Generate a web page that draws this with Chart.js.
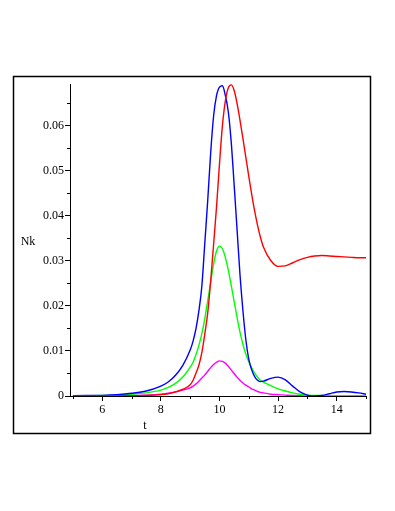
<!DOCTYPE html>
<html>
<head>
<meta charset="utf-8">
<script src="https://cdn.jsdelivr.net/npm/chart.js@4"></script>
<style>
  html, body { margin: 0; padding: 0; background: #fff; }
  #wrap { width: 395px; height: 511px; position: relative; }
</style>
</head>
<body>
<div id="wrap"><canvas id="c" width="395" height="511"></canvas></div>
<script>
// ---- data ----
const tValues = [5,5.5,6,6.5,7,7.5,8,8.25,8.5,8.75,9,9.1,9.2,9.3,9.4,9.5,9.6,9.7,9.8,9.9,10,10.1,10.2,10.3,10.4,10.5,10.6,10.7,10.8,10.9,11,11.1,11.2,11.3,11.4,11.5,11.75,12,12.25,12.5,12.75,13,13.25,13.5,13.75,14,14.25,14.5,14.75,15];

const redValues = [0,0,0.00001,0.00002,0.00005,0.0001,0.0003,0.0005,0.0009,0.0015,0.0025,0.0035,0.0051,0.0069,0.0097,0.0138,0.0185,0.0255,0.0337,0.042,0.0515,0.06,0.0655,0.0684,0.0691,0.0679,0.065,0.0613,0.0572,0.053,0.0488,0.0448,0.0411,0.0379,0.0352,0.0331,0.0301,0.0288,0.0289,0.0296,0.0303,0.0308,0.0311,0.0312,0.0311,0.031,0.0309,0.0308,0.0307,0.0307];

const blueValues = [0.00005,0.0001,0.00015,0.0003,0.0006,0.0011,0.0022,0.0031,0.0046,0.0068,0.0102,0.0122,0.015,0.019,0.0245,0.034,0.0435,0.054,0.0622,0.0667,0.0686,0.0689,0.0668,0.0632,0.0565,0.047,0.037,0.027,0.019,0.0125,0.0082,0.0058,0.0043,0.0035,0.0032,0.0033,0.0039,0.0042,0.0036,0.0022,0.0009,0.0002,0.0,0.0001,0.0005,0.0009,0.001,0.0009,0.0007,0.0004];

const greenValues = [0.00003,0.00006,0.0001,0.0002,0.0004,0.0007,0.0013,0.0019,0.0028,0.0042,0.0064,0.0075,0.0092,0.0113,0.0139,0.0172,0.0212,0.0253,0.0293,0.0322,0.0333,0.0327,0.0308,0.028,0.0246,0.021,0.0175,0.0142,0.0115,0.0093,0.0076,0.0062,0.0051,0.0042,0.0035,0.0031,0.0023,0.0016,0.0011,0.0007,0.0004,0.0002,0.0001,0.0001,0.00005,0.00005,0.00003,0.00003,0.00002,0.00002];

const magentaValues = [0.00001,0.00002,0.00003,0.00006,0.0001,0.0002,0.0004,0.0006,0.0009,0.0013,0.0018,0.0022,0.0027,0.0033,0.004,0.0047,0.0055,0.0063,0.007,0.0075,0.0078,0.0077,0.0073,0.0066,0.0058,0.005,0.0042,0.0035,0.0029,0.0024,0.002,0.0016,0.0013,0.001,0.0008,0.0007,0.0004,0.0003,0.0002,0.0001,0.00005,0.00003,0.00002,0.00001,0.00001,0.00001,0.00001,0.00001,0.00001,0.00001];

const xTickLabels = [6, 8, 10, 12, 14];
const yTickLabels = ["0", "0.01", "0.02", "0.03", "0.04", "0.05", "0.06"];
const xTitle = "t";
const yTitle = "Nk";

// ---- chart ----
const FONT = "'Liberation Serif', serif";
const pts = arr => tValues.map((t, i) => ({ x: t, y: arr[i] }));
const line = (arr, color) => ({
  data: pts(arr), borderColor: color, borderWidth: 1.4, pointRadius: 0,
  fill: false, cubicInterpolationMode: 'monotone'
});

function isMajorX(v) { return xTickLabels.some(l => Math.abs(l - v) < 1e-6); }
function yIndex(v) { return Math.round(v / 0.01); }
function isMajorY(v) { return Math.abs(v / 0.01 - Math.round(v / 0.01)) < 1e-6; }

const deco = {
  id: 'deco',
  afterDraw(chart) {
    const ctx = chart.ctx;
    const xs = chart.scales.x, ys = chart.scales.y;
    ctx.save();
    ctx.strokeStyle = '#000';
    ctx.lineWidth = 1;
    // minor ticks
    xs.ticks.forEach(tk => {
      if (!isMajorX(tk.value)) {
        const px = Math.round(xs.getPixelForValue(tk.value)) + 0.5;
        ctx.beginPath(); ctx.moveTo(px, ys.bottom); ctx.lineTo(px, ys.bottom + 3); ctx.stroke();
      }
    });
    ys.ticks.forEach(tk => {
      if (!isMajorY(tk.value)) {
        const py = Math.round(ys.getPixelForValue(tk.value)) + 0.5;
        ctx.beginPath(); ctx.moveTo(xs.left - 3, py); ctx.lineTo(xs.left, py); ctx.stroke();
      }
    });
    // outer frame
    ctx.lineWidth = 1.5;
    ctx.strokeRect(13.5, 76.5, 357, 357);
    // axis titles
    ctx.fillStyle = '#000';
    ctx.font = "12px " + FONT;
    ctx.textAlign = 'center';
    ctx.textBaseline = 'middle';
    ctx.fillText(xTitle, 145, 426);
    ctx.fillText(yTitle, 28, 242);
    ctx.restore();
  }
};

new Chart(document.getElementById('c'), {
  type: 'line',
  data: {
    datasets: [
      line(redValues, '#ff0000'),
      line(blueValues, '#0000ff'),
      line(greenValues, '#00ff00'),
      line(magentaValues, '#ff00ff')
    ]
  },
  options: {
    responsive: false,
    animation: false,
    events: [],
    layout: { padding: { left: 0, right: 29, top: 84, bottom: 0 } },
    plugins: { legend: { display: false }, tooltip: { enabled: false } },
    scales: {
      x: {
        type: 'linear', min: 4.9, max: 15,
        afterFit: s => { s.height = 115; },
        border: { display: true, color: '#000', width: 1 },
        grid: {
          drawOnChartArea: false, drawTicks: true, tickLength: 5,
          tickColor: c => (c.tick && isMajorX(c.tick.value)) ? '#000' : 'rgba(0,0,0,0)'
        },
        ticks: {
          stepSize: 1, includeBounds: false, autoSkip: false, maxRotation: 0,
          padding: 2, color: '#000', font: { family: FONT, size: 12 },
          callback: v => isMajorX(v) ? String(v) : ''
        }
      },
      y: {
        type: 'linear', min: 0, max: 0.0693,
        afterFit: s => { s.width = 70; },
        border: { display: true, color: '#000', width: 1 },
        grid: {
          drawOnChartArea: false, drawTicks: true, tickLength: 5,
          tickColor: c => (c.tick && isMajorY(c.tick.value)) ? '#000' : 'rgba(0,0,0,0)'
        },
        ticks: {
          stepSize: 0.005, includeBounds: false, autoSkip: false,
          padding: 1, color: '#000', font: { family: FONT, size: 12 },
          callback: v => isMajorY(v) ? (yTickLabels[yIndex(v)] ?? '') : ''
        }
      }
    }
  },
  plugins: [deco]
});
</script>
</body>
</html>
